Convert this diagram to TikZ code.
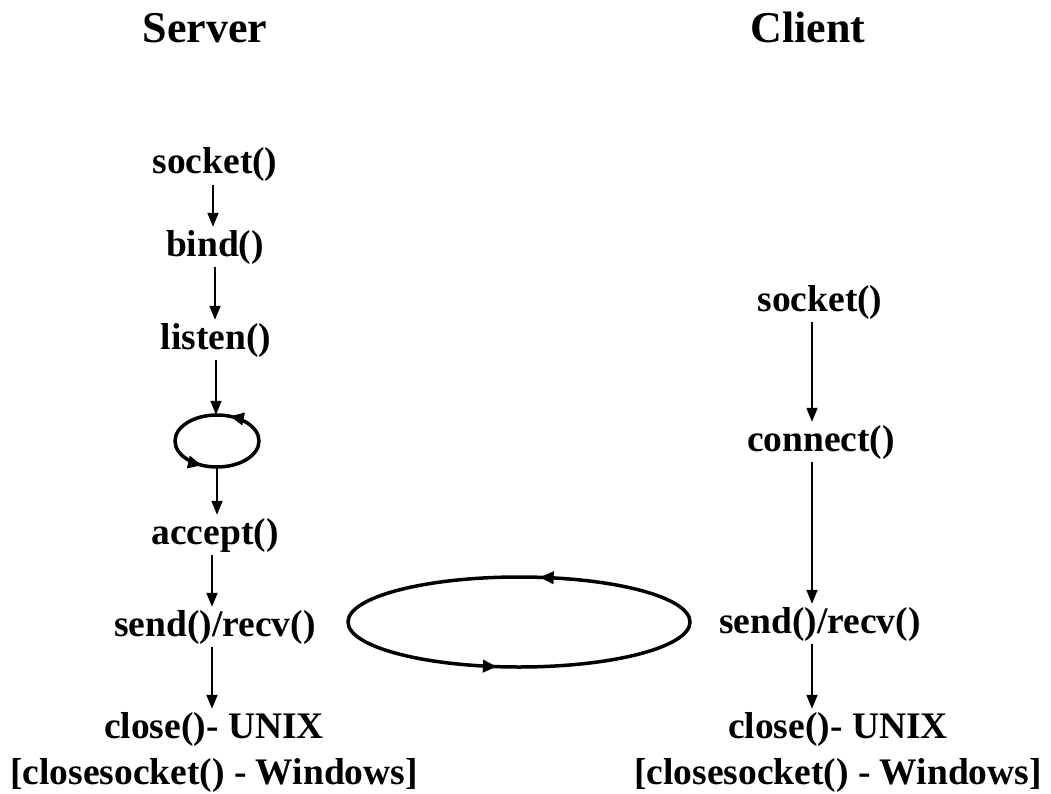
\documentclass[tikz,border=0pt]{standalone}
\usepackage{fontspec}
\setmainfont{Liberation Serif}
\usetikzlibrary{arrows.meta,decorations.markings,shapes.geometric}

\tikzset{
  call/.style={font=\fontsize{37.5}{46}\selectfont\bfseries, anchor=base, inner sep=3pt, align=center},
  title/.style={font=\fontsize{44}{50}\selectfont\bfseries, anchor=base, inner sep=3pt},
  flow/.style={line width=1.8pt, -{Triangle[length=14pt,width=11pt]}},
  loopring/.style={line width=3.5pt, postaction={decorate}},
}

\begin{document}
\begin{tikzpicture}[x=1pt,y=1pt]
\useasboundingbox (0,0) rectangle (1051,-794);

% column headings
\node[title] (srv) at (205,-43) {Server};
\node[title] (cli) at (808,-43) {Client};

% server side calls
\node[call] (ssock)   at (215,-174) {socket()};
\node[call] (sbind)   at (215,-256) {bind()};
\node[call] (slisten) at (216,-349) {listen()};
\node[ellipse, minimum width=84pt, minimum height=52pt, inner sep=0pt] (wait) at (217,-441) {};
\node[call] (saccept) at (215,-544) {accept()};
\node[call] (ssr)     at (215,-636) {send()/recv()};
% the base anchor of a two-line node sits on its last line
\node[call] (sclose)  at (214,-784) {close()- UNIX\\{[}closesocket() - Windows{]}};

% client side calls
\node[call] (csock)  at (820,-311) {socket()};
\node[call] (cconn)  at (821,-451) {connect()};
\node[call] (csr)    at (820,-633) {send()/recv()};
\node[call] (cclose) at (838,-784) {close()- UNIX\\{[}closesocket() - Windows{]}};

% exchange loop between the two sides
\node[ellipse, minimum width=342pt, minimum height=90pt, inner sep=0pt] (xchg) at (519,-622) {};

% server flow
\draw[flow] ([xshift=-2pt]ssock.south) -- ([xshift=-2pt]ssock.south |- sbind.north);
\draw[flow] (sbind.south) -- (sbind.south |- slisten.north);
\draw[flow] (slisten.south) -- (slisten.south |- wait.north);
\draw[flow] (wait.south) -- (wait.south |- saccept.north);
\draw[flow] ([xshift=-3pt]saccept.south) -- ([xshift=-3pt]saccept.south |- ssr.north);
\draw[flow] ([xshift=-3pt]ssr.south) -- ([xshift=-3pt]ssr.south |- sclose.north);

% client flow
\draw[flow] ([xshift=-8pt]csock.south) -- ([xshift=-8pt]csock.south |- cconn.north);
\draw[flow] ([xshift=-9pt]cconn.south) -- ([xshift=-9pt]cconn.south |- csr.north);
\draw[flow] ([xshift=-8pt]csr.south) -- ([xshift=-8pt]csr.south |- cclose.north);

% waiting loop before accept()
\draw[loopring, decoration={markings,
    mark=at position 0.19 with {\arrow{Triangle[length=14pt,width=12pt]}},
    mark=at position 0.68 with {\arrow{Triangle[length=14pt,width=12pt]}}}]
  (wait.center) ellipse [x radius=42pt, y radius=26pt];

% data exchange loop
\draw[loopring, decoration={markings,
    mark=at position 0.222 with {\arrow{Triangle[length=14pt,width=12pt]}},
    mark=at position 0.72 with {\arrow{Triangle[length=14pt,width=12pt]}}}]
  (xchg.center) ellipse [x radius=171pt, y radius=45pt];
\end{tikzpicture}
\end{document}
